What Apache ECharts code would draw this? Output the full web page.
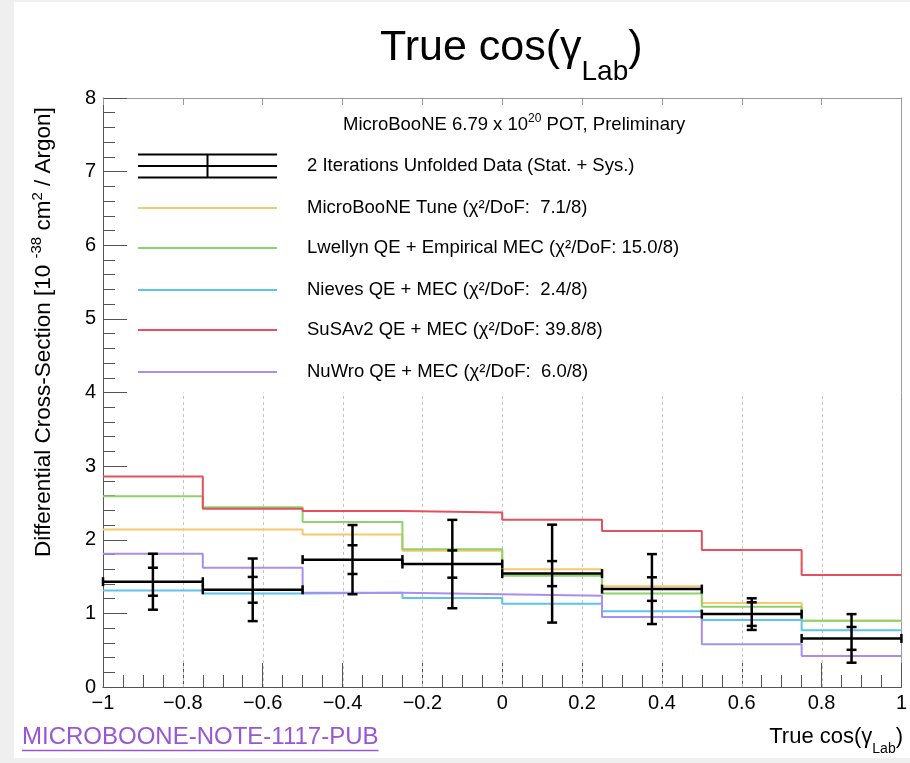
<!DOCTYPE html>
<html>
<head>
<meta charset="utf-8">
<script src="https://cdn.jsdelivr.net/npm/echarts@6/dist/echarts.min.js"></script>
<style>
  html, body { margin: 0; padding: 0; background: #efefef; }
  #wrap { position: relative; width: 910px; height: 763px; }
  #panel { position: absolute; left: 14px; top: 2px; width: 896px; height: 756px; background: #fff; }
  #chart { position: absolute; left: 0; top: 0; width: 910px; height: 763px; }
</style>
</head>
<body>
<div id="wrap"><div id="panel"></div><div id="chart"></div></div>
<script>
// Binning in true cos(gamma_lab)
const binEdges = [-1, -0.75, -0.5, -0.25, 0, 0.25, 0.5, 0.75, 1];

// Unfolded data: central value, statistical and total (stat + sys) half-widths
const dataValues  = [1.43, 1.32, 1.73, 1.67, 1.54, 1.33, 0.99, 0.66];
const statErrors  = [0.19, 0.175, 0.195, 0.185, 0.17, 0.16, 0.16, 0.155];
const totalErrors = [0.38, 0.425, 0.47, 0.60, 0.665, 0.475, 0.215, 0.33];

// Generator predictions per bin
const tuneValues    = [2.14, 2.14, 2.07, 1.85, 1.60, 1.37, 1.14, 0.90];
const lwellynValues = [2.59, 2.44, 2.24, 1.87, 1.51, 1.27, 1.09, 0.90];
const nievesValues  = [1.31, 1.27, 1.28, 1.21, 1.13, 1.03, 0.91, 0.77];
const susaValues    = [2.86, 2.42, 2.39, 2.37, 2.27, 2.12, 1.86, 1.52];
const nuwroValues   = [1.81, 1.62, 1.28, 1.26, 1.24, 0.95, 0.58, 0.42];

const modelLabels = [
  'MicroBooNE Tune (χ²/DoF:  7.1/8)',
  'Lwellyn QE + Empirical MEC (χ²/DoF: 15.0/8)',
  'Nieves QE + MEC (χ²/DoF:  2.4/8)',
  'SuSAv2 QE + MEC (χ²/DoF: 39.8/8)',
  'NuWro QE + MEC (χ²/DoF:  6.0/8)'
];
const dataLabel = '2 Iterations Unfolded Data (Stat. + Sys.)';

// Axis ticks
const xTickValues = [-1, -0.8, -0.6, -0.4, -0.2, 0, 0.2, 0.4, 0.6, 0.8, 1];
const xTickLabels = ['−1', '−0.8', '−0.6', '−0.4', '−0.2', '0', '0.2', '0.4', '0.6', '0.8', '1'];
const yTickValues = [0, 1, 2, 3, 4, 5, 6, 7, 8];
const yTickLabels = ['0', '1', '2', '3', '4', '5', '6', '7', '8'];
const gridLineX = [-0.8, -0.6, -0.4, -0.2, 0, 0.2, 0.4, 0.6, 0.8];
const gridLineTop = 4;

const modelSeries = [tuneValues, lwellynValues, nievesValues, susaValues, nuwroValues];
const modelColors = ['#f6c86c', '#8ed36a', '#5cc3ea', '#e5505e', '#a98ef0'];

const FONT = '"Liberation Sans", Arial, Helvetica, sans-serif';
const NOTE_FONT = '"Liberation Sans Narrow", "Liberation Sans", Arial, sans-serif';

const measureCtx = document.createElement('canvas').getContext('2d');
function textWidth(str, size, family) {
  measureCtx.font = size + 'px ' + (family || FONT);
  return measureCtx.measureText(str).width;
}

// Lay out text fragments (normal / sub / superscript) along a baseline.
// parts: [{t, size, dy}] where dy shifts the fragment's baseline.
function textRun(x0, baseline, parts, color, anchor, family) {
  const fam = family || FONT;
  const widths = parts.map(p => textWidth(p.t, p.size, fam));
  const total = widths.reduce((a, b) => a + b, 0);
  let x = anchor === 'right' ? x0 - total : (anchor === 'center' ? x0 - total / 2 : x0);
  const out = [];
  parts.forEach((p, i) => {
    out.push({
      type: 'text',
      x: x,
      y: baseline + (p.dy || 0) - 0.35 * p.size,
      silent: true,
      style: {
        text: p.t,
        fill: color,
        font: p.size + 'px ' + fam,
        textAlign: 'left',
        textVerticalAlign: 'middle',
        align: 'left',
        verticalAlign: 'middle'
      }
    });
    x += widths[i];
  });
  return out;
}

function labelFor(values, labels, v) {
  let best = 0;
  values.forEach((t, i) => { if (Math.abs(t - v) < Math.abs(values[best] - v)) best = i; });
  return labels[best];
}

function stepPoints(values) {
  return binEdges.map((e, i) => [e, values[Math.min(i, values.length - 1)]]);
}

const dataRows = dataValues.map((v, i) => [binEdges[i], binEdges[i + 1], v, statErrors[i], totalErrors[i]]);

const chart = echarts.init(document.getElementById('chart'), null, { renderer: 'canvas' });

const axisColor = '#555';
const frameColor = '#9a9a9a';

const series = [];

// Dotted vertical guide lines in the lower part of the frame
series.push({
  type: 'custom',
  z: 1,
  silent: true,
  data: gridLineX.map(x => [x]),
  renderItem: function (params, api) {
    const x = api.value(0);
    const p0 = api.coord([x, 0]);
    const p1 = api.coord([x, gridLineTop]);
    return {
      type: 'line',
      shape: { x1: Math.round(p0[0]) + 0.5, y1: p0[1], x2: Math.round(p1[0]) + 0.5, y2: p1[1] },
      style: { stroke: '#c4c4c4', lineWidth: 1, lineDash: [3, 3] }
    };
  }
});

modelSeries.forEach((vals, k) => {
  series.push({
    type: 'line',
    name: modelLabels[k],
    step: 'end',
    data: stepPoints(vals),
    symbol: 'none',
    z: 3 + k,
    silent: true,
    lineStyle: { color: modelColors[k], width: 2 },
    itemStyle: { color: modelColors[k] }
  });
});

// Unfolded data with bin-width bars and stat / total error bars
series.push({
  type: 'custom',
  name: dataLabel,
  z: 20,
  silent: true,
  data: dataRows,
  renderItem: function (params, api) {
    const lo = api.value(0), hi = api.value(1), v = api.value(2);
    const st = api.value(3), tot = api.value(4);
    const c = (lo + hi) / 2;
    const pL = api.coord([lo, v]);
    const pR = api.coord([hi, v]);
    const pC = api.coord([c, v]);
    const tTop = api.coord([c, v + tot]);
    const tBot = api.coord([c, v - tot]);
    const sTop = api.coord([c, v + st]);
    const sBot = api.coord([c, v - st]);
    const style = { stroke: '#000', lineWidth: 2.5, fill: null };
    const cap = 5, edge = 4.5;
    const seg = (x1, y1, x2, y2) => ({ type: 'line', shape: { x1, y1, x2, y2 }, style });
    return {
      type: 'group',
      children: [
        seg(pL[0], pL[1], pR[0], pR[1]),
        seg(pL[0], pL[1] - edge, pL[0], pL[1] + edge),
        seg(pR[0], pR[1] - edge, pR[0], pR[1] + edge),
        seg(pC[0], tTop[1], pC[0], tBot[1]),
        seg(pC[0] - cap, tTop[1], pC[0] + cap, tTop[1]),
        seg(pC[0] - cap, tBot[1], pC[0] + cap, tBot[1]),
        seg(pC[0] - cap, sTop[1], pC[0] + cap, sTop[1]),
        seg(pC[0] - cap, sBot[1], pC[0] + cap, sBot[1])
      ]
    };
  }
});

// ---- Text and legend drawn as graphic elements ----
const graphics = [];

// Title
textRun(380, 63, [
  { t: 'True cos(γ', size: 43 },
  { t: 'Lab', size: 28, dy: 19 },
  { t: ')', size: 43 }
], '#000', 'left').forEach(e => graphics.push(e));

// X-axis title, right aligned to the frame
textRun(903, 745, [
  { t: 'True cos(γ', size: 22 },
  { t: 'Lab', size: 14, dy: 9 },
  { t: ')', size: 22 }
], '#000', 'right').forEach(e => graphics.push(e));

// Y-axis title, rotated to read upward
graphics.push({
  type: 'group',
  x: 52,
  y: 557,
  rotation: Math.PI / 2,
  children: textRun(0, 0, [
    { t: 'Differential Cross-Section [10 ', size: 22.5 },
    { t: '-38', size: 15, dy: -10 },
    { t: ' cm', size: 22.5 },
    { t: '2', size: 15, dy: -9 },
    { t: ' / Argon]', size: 22.5 }
  ], '#000', 'left')
});

// Legend header
textRun(343, 131, [
  { t: 'MicroBooNE 6.79 x 10', size: 18.5 },
  { t: '20', size: 12, dy: -8 },
  { t: ' POT, Preliminary', size: 18.5 }
], '#000', 'left').forEach(e => graphics.push(e));

// Legend entries
const legX0 = 138, legX1 = 277, legTextX = 307;
const rowY = [166, 208, 248, 290, 330, 372];
const blk = { stroke: '#000', lineWidth: 2 };
[-11.5, 0, 11.5].forEach(d => {
  graphics.push({ type: 'line', silent: true, shape: { x1: legX0, y1: rowY[0] + d, x2: legX1, y2: rowY[0] + d }, style: blk });
});
graphics.push({ type: 'line', silent: true, shape: { x1: (legX0 + legX1) / 2, y1: rowY[0] - 11.5, x2: (legX0 + legX1) / 2, y2: rowY[0] + 11.5 }, style: blk });
textRun(legTextX, rowY[0] + 6.5, [{ t: dataLabel, size: 18.5 }], '#000', 'left').forEach(e => graphics.push(e));

modelLabels.forEach((lab, k) => {
  const y = rowY[k + 1];
  graphics.push({ type: 'line', silent: true, shape: { x1: legX0, y1: y, x2: legX1, y2: y }, style: { stroke: modelColors[k], lineWidth: 2 } });
  textRun(legTextX, y + 6.5, [{ t: lab, size: 18.5 }], '#000', 'left').forEach(e => graphics.push(e));
});

// Note reference underneath the plot
const noteText = 'MICROBOONE-NOTE-1117-PUB';
const noteW = textWidth(noteText, 24, NOTE_FONT);
textRun(22, 746, [{ t: noteText, size: 24 }], '#9a55d6', 'left', NOTE_FONT).forEach(e => graphics.push(e));
graphics.push({ type: 'line', silent: true, shape: { x1: 22, y1: 750.5, x2: 22 + noteW, y2: 750.5 }, style: { stroke: '#9a55d6', lineWidth: 1.5 } });

chart.setOption({
  animation: false,
  backgroundColor: 'transparent',
  grid: { left: 103, right: 8, top: 98, bottom: 76, containLabel: false },
  xAxis: [
    {
      type: 'value', min: -1, max: 1, interval: 0.2, position: 'bottom',
      axisLine: { show: true, onZero: false, lineStyle: { color: axisColor, width: 1 } },
      axisTick: { show: true, inside: true, length: 24, lineStyle: { color: axisColor } },
      minorTick: { show: true, splitNumber: 4, length: 12, lineStyle: { color: axisColor } },
      splitLine: { show: false },
      axisLabel: {
        show: true, margin: 6, color: '#000', fontSize: 20, fontFamily: FONT,
        formatter: v => labelFor(xTickValues, xTickLabels, v)
      }
    },
    {
      type: 'value', min: -1, max: 1, interval: 0.2, position: 'top',
      axisLine: { show: true, onZero: false, lineStyle: { color: frameColor, width: 1 } },
      axisTick: { show: true, inside: true, length: 7, lineStyle: { color: frameColor } },
      axisLabel: { show: false },
      splitLine: { show: false }
    }
  ],
  yAxis: [
    {
      type: 'value', min: 0, max: 8, interval: 1, position: 'left',
      axisLine: { show: true, onZero: false, lineStyle: { color: axisColor, width: 1 } },
      axisTick: { show: true, inside: true, length: 24, lineStyle: { color: axisColor } },
      minorTick: { show: true, splitNumber: 5, length: 12, lineStyle: { color: axisColor } },
      splitLine: { show: false },
      axisLabel: {
        show: true, margin: 7, color: '#000', fontSize: 20, fontFamily: FONT,
        formatter: v => labelFor(yTickValues, yTickLabels, v)
      }
    },
    {
      type: 'value', min: 0, max: 8, interval: 1, position: 'right',
      axisLine: { show: true, onZero: false, lineStyle: { color: frameColor, width: 1 } },
      axisTick: { show: false },
      axisLabel: { show: false },
      splitLine: { show: false }
    }
  ],
  series: series,
  graphic: { elements: graphics }
});
</script>
</body>
</html>
